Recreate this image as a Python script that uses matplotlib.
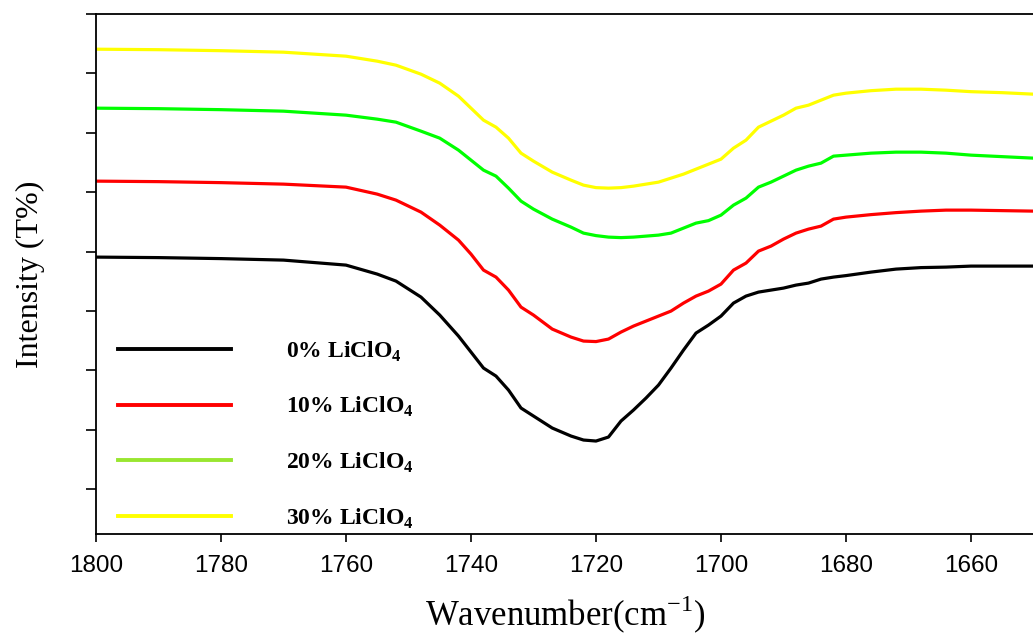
import numpy as np
import matplotlib
matplotlib.use("Agg")
import matplotlib.pyplot as plt
from matplotlib.lines import Line2D

# Wavenumbers (cm-1) and transmittance traces (arbitrary offset units)
wavenumber = [1800, 1790, 1780, 1770, 1760, 1755, 1752, 1748, 1745, 1742,
              1740, 1738, 1736, 1734, 1732, 1730, 1727, 1724, 1722, 1720,
              1718, 1716, 1714, 1712, 1710, 1708, 1706, 1704, 1702, 1700,
              1698, 1696, 1694, 1692, 1690, 1688, 1686, 1684, 1682, 1680,
              1676, 1672, 1668, 1664, 1660, 1655, 1650]

t_0 = [303, 302.5, 301.5, 300, 295, 286, 279, 263, 245, 224,
       208, 192, 184, 170, 152, 144, 132, 124, 120, 119,
       123, 139, 150, 162, 175, 192, 210, 227, 235, 244,
       257, 264, 268, 270, 272, 275, 277, 281, 283, 284.5,
       288, 291, 292.5, 293, 294, 294, 294]

t_10 = [379, 378.5, 377.5, 376, 373, 366, 360, 348, 335, 320,
        306, 290, 283, 270, 253, 245, 231, 223, 219, 218.5,
        221, 228, 234, 239, 244, 249, 257, 264, 269, 276,
        290, 297, 309, 314, 321, 327, 331, 334, 341, 343,
        345.5, 347.5, 349, 350, 350, 349.5, 349]

t_20 = [452, 451.5, 450.5, 449, 445, 441, 438, 429, 422, 410,
        400, 390, 384, 372, 359, 351, 341, 333, 327, 324.5,
        323, 322.5, 323, 324, 325, 327, 332, 337, 339.5, 345,
        355, 362, 373, 378, 384, 390, 394, 397, 404, 405,
        407, 408, 408, 407, 405, 403.5, 402]

t_30 = [511, 510.5, 509.5, 508, 504, 499, 495, 486, 477, 464,
        452, 440, 433, 422, 407, 399, 388, 380, 375, 372.5,
        372, 372.5, 374, 376, 378, 382, 386, 391, 396, 401,
        412, 420, 433, 439, 445, 452, 455, 460, 465, 467,
        469.5, 471, 471, 470, 468.5, 467.5, 466]

labels = ["0% LiClO$_\\mathbf{4}$", "10% LiClO$_\\mathbf{4}$",
          "20% LiClO$_\\mathbf{4}$", "30% LiClO$_\\mathbf{4}$"]
line_colors = ["#000000", "#ff0000", "#00ff00", "#ffff00"]
legend_colors = ["#000000", "#ff0000", "#99e630", "#ffff00"]

plt.rcParams["mathtext.fontset"] = "custom"
plt.rcParams["mathtext.rm"] = "Liberation Serif"
plt.rcParams["mathtext.bf"] = "Liberation Serif:bold"

fig = plt.figure(figsize=(10.33, 6.39), dpi=100)
ax = fig.add_axes([96/1033, 1 - 534/639, 937.5/1033, 520/639])

for y, c in zip([t_0, t_10, t_20, t_30], line_colors):
    ax.plot(wavenumber, y, color=c, lw=2.3, solid_joinstyle="round",
            solid_capstyle="round")

ax.set_xlim(1800, 1650)
ax.set_ylim(26, 546)
ax.set_xticks([1800, 1780, 1760, 1740, 1720, 1700, 1680, 1660])
ax.set_yticks(71 + 59.4 * np.arange(9))
ax.set_yticklabels([])

for s in ax.spines.values():
    s.set_linewidth(1.3)
ax.spines["right"].set_visible(False)

ax.tick_params(axis="x", direction="out", length=6, width=1.2, pad=9,
               labelsize=17.5)
for t in ax.get_xticklabels():
    t.set_fontfamily("Liberation Sans")
ax.tick_params(axis="y", direction="out", length=7, width=1.2)

ax.set_xlabel("Wavenumber(cm$^{\\mathregular{-1}}$)", fontsize=25,
              family="Liberation Serif", labelpad=12)
ax.set_ylabel("Intensity (T%)", fontsize=23, family="Liberation Serif",
              labelpad=26)

handles = [Line2D([], [], color=c, lw=2.8) for c in legend_colors]
leg = ax.legend(handles, labels, loc="upper left", bbox_to_anchor=(0.0235, 0.374),
                frameon=False, borderpad=0, borderaxespad=0,
                handlelength=4.8, handletextpad=2.3, labelspacing=1.33,
                prop={"family": "Liberation Serif", "weight": "bold", "size": 17})

fig.savefig("out.png", dpi=100)
